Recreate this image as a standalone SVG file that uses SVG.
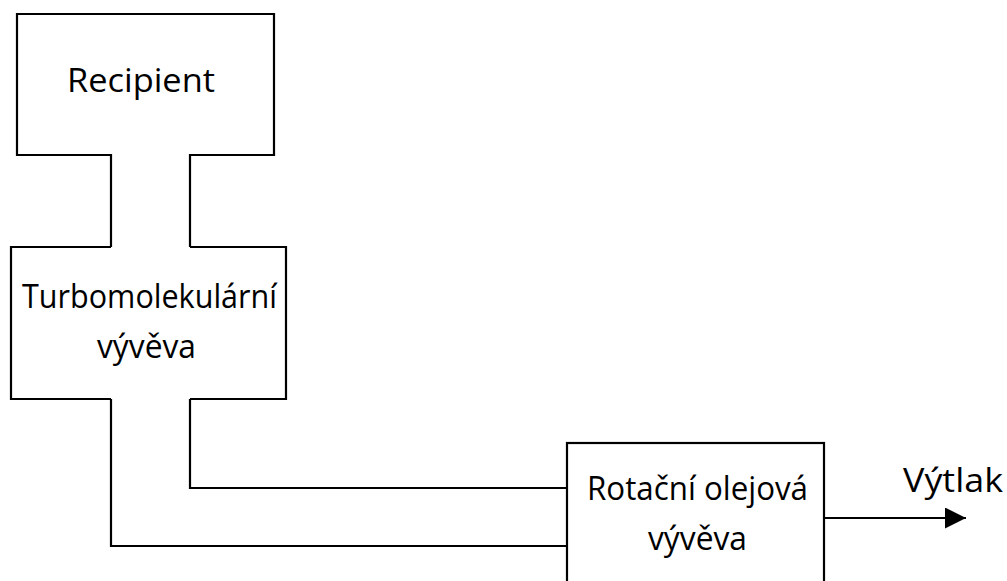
<svg xmlns="http://www.w3.org/2000/svg" width="1007" height="581" viewBox="0 0 1007 581">
<defs>
<style>
.ln{fill:none;stroke:#000;stroke-width:2.2;stroke-linejoin:miter}
.t{font-family:"Open Sans","Liberation Sans",sans-serif;font-size:32px;fill:#000}
</style>
<marker id="ah" markerWidth="21" markerHeight="21" refX="21" refY="10.5" orient="auto" markerUnits="userSpaceOnUse" viewBox="0 0 21 21">
<path d="M0,0 L21,10.5 L0,21 Z" fill="#000"/>
</marker>
</defs>
<rect width="1007" height="581" fill="#fff"/>
<g id="recipient">
<path class="ln" d="M111,247 V155 H17 V14 H274 V155 H190 V247"/>
<text class="t" x="67" y="92" textLength="148" lengthAdjust="spacingAndGlyphs">Recipient</text>
</g>
<g id="turbo">
<path class="ln" d="M111,247 H11 V399 H111"/>
<path class="ln" d="M190,247 H286 V399 H190"/>
<text class="t" x="22" y="308" textLength="255" lengthAdjust="spacingAndGlyphs">Turbomolekulární</text>
<text class="t" x="97" y="358" textLength="99" lengthAdjust="spacingAndGlyphs">vývěva</text>
</g>
<g id="rotary">
<rect class="ln" x="567" y="443" width="257" height="160"/>
<text class="t" x="587" y="500" textLength="221" lengthAdjust="spacingAndGlyphs">Rotační olejová</text>
<text class="t" x="648" y="550" textLength="99" lengthAdjust="spacingAndGlyphs">vývěva</text>
</g>
<g id="connectors">
<path class="ln" d="M111,399 V546 H567"/>
<path class="ln" d="M190,399 V488 H567"/>
<line x1="824" y1="518" x2="966" y2="518" stroke="#000" stroke-width="2.2" marker-end="url(#ah)"/>
</g>
<g id="output">
<text class="t" x="903" y="492" textLength="100" lengthAdjust="spacingAndGlyphs">Výtlak</text>
</g>
</svg>
